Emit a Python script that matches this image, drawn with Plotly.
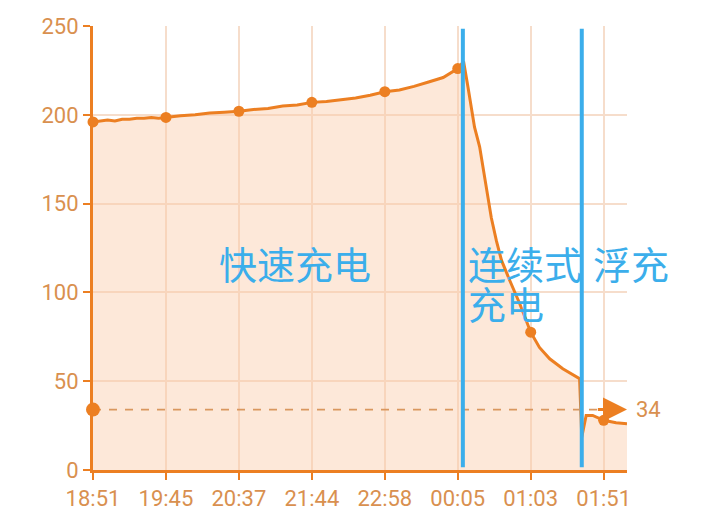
import plotly.graph_objects as go

# ---- data ----
tick_labels = ["18:51", "19:45", "20:37", "21:44", "22:58", "00:05", "01:03", "01:51"]
tick_pos = [0, 1, 2, 3, 4, 5, 6, 7]

curve_x = [0, 0.1, 0.2, 0.3, 0.4, 0.5, 0.6, 0.7, 0.8, 0.9, 1.0, 1.2, 1.4, 1.6, 1.8,
           2.0, 2.2, 2.4, 2.6, 2.8, 3.0, 3.2, 3.4, 3.6, 3.8, 4.0, 4.2, 4.4, 4.6, 4.8,
           5.0, 5.08, 5.14, 5.23, 5.30, 5.39, 5.46, 5.53, 5.60, 5.71, 5.85, 6.0,
           6.12, 6.26, 6.44, 6.67, 6.70, 6.76, 6.85, 7.0, 7.17, 7.32]
curve_y = [196, 196.5, 197, 196.5, 197.5, 197.5, 198, 198, 198.5, 198, 198.5, 199.5,
           200, 201, 201.5, 202, 203, 203.5, 205, 205.5, 207, 207.5, 208.5, 209.5, 211,
           213, 214, 216, 218.5, 221, 226, 230, 215.6, 193, 182, 159, 142, 129, 118,
           107, 93.6, 77.6, 69, 62.6, 57, 51.4, 18.5, 30.7, 30.7, 28, 26.6, 26]

marker_x = [0, 1, 2, 3, 4, 5, 6, 7]
marker_y = [196, 198.5, 202, 207, 213, 226, 77.6, 28]

reference_value = 34
x_end = 7.32
phase_boundaries = [5.07, 6.70]

phase_labels = ["快速充电", "连续式", "充电", "浮充"]

# ---- styles ----
orange = "#EC7F22"
tick_color = "#D9904F"
fill_color = "rgba(250,205,170,0.45)"
grid_color = "#F6DDCB"
blue = "#3BAEEB"
cjk = "Noto Sans CJK SC"

fig = go.Figure()

fig.add_trace(go.Scatter(
    x=curve_x, y=curve_y, mode="lines",
    line=dict(color=orange, width=3),
    fill="tozeroy", fillcolor=fill_color,
    hoverinfo="skip", showlegend=False,
))
fig.add_trace(go.Scatter(
    x=marker_x, y=marker_y, mode="markers",
    marker=dict(color=orange, size=11),
    cliponaxis=False, showlegend=False,
))
fig.add_trace(go.Scatter(
    x=[0, x_end - 0.35], y=[reference_value, reference_value], mode="lines",
    line=dict(color="#D9975F", width=1.8, dash="8px,8px"),
    showlegend=False,
))
fig.add_trace(go.Scatter(
    x=[0], y=[reference_value], mode="markers",
    marker=dict(color=orange, size=14), cliponaxis=False, showlegend=False,
))

for xb in phase_boundaries:
    fig.add_shape(type="line", x0=xb, x1=xb, xref="x", y0=0.006, y1=0.994, yref="paper",
                  line=dict(color=blue, width=4), layer="above")

fig.add_annotation(x=x_end, y=reference_value, ax=x_end - 0.42, ay=reference_value,
                   xref="x", yref="y", axref="x", ayref="y", text="",
                   showarrow=True, arrowhead=2, arrowsize=1.6, arrowwidth=3,
                   arrowcolor=orange)
fig.add_annotation(x=x_end, y=reference_value, xref="x", yref="y", text=str(reference_value),
                   showarrow=False, xanchor="left", xshift=7,
                   font=dict(family="Roboto", size=22, color=tick_color))

label_font = dict(family=cjk, size=38, color=blue)
fig.add_annotation(x=2.77, y=0.467, xref="x", yref="paper", text=phase_labels[0],
                   showarrow=False, xanchor="center", yanchor="middle", font=label_font)
fig.add_annotation(x=5.11, y=0.467, xref="x", yref="paper", text=phase_labels[1],
                   showarrow=False, xanchor="left", yanchor="middle", font=label_font)
fig.add_annotation(x=5.11, y=0.377, xref="x", yref="paper", text=phase_labels[2],
                   showarrow=False, xanchor="left", yanchor="middle", font=label_font)
fig.add_annotation(x=6.83, y=0.467, xref="x", yref="paper", text=phase_labels[3],
                   showarrow=False, xanchor="left", yanchor="middle", font=label_font)

axis_common = dict(
    showgrid=True, gridcolor=grid_color, gridwidth=1.5,
    showline=True, linecolor=orange, linewidth=3,
    ticks="outside", tickcolor=orange, ticklen=7, tickwidth=2,
    tickfont=dict(family="Roboto", size=22, color=tick_color),
    zeroline=False, automargin=False,
)

fig.update_layout(
    width=698, height=518,
    margin=dict(l=85, r=79, t=18, b=56),
    paper_bgcolor="white", plot_bgcolor="white",
    showlegend=False,
    xaxis=dict(range=[0, x_end], tickvals=tick_pos, ticktext=tick_labels, **axis_common),
    yaxis=dict(range=[0, 250], tickvals=[0, 50, 100, 150, 200, 250], **axis_common),
)

fig.write_html("out.html")
